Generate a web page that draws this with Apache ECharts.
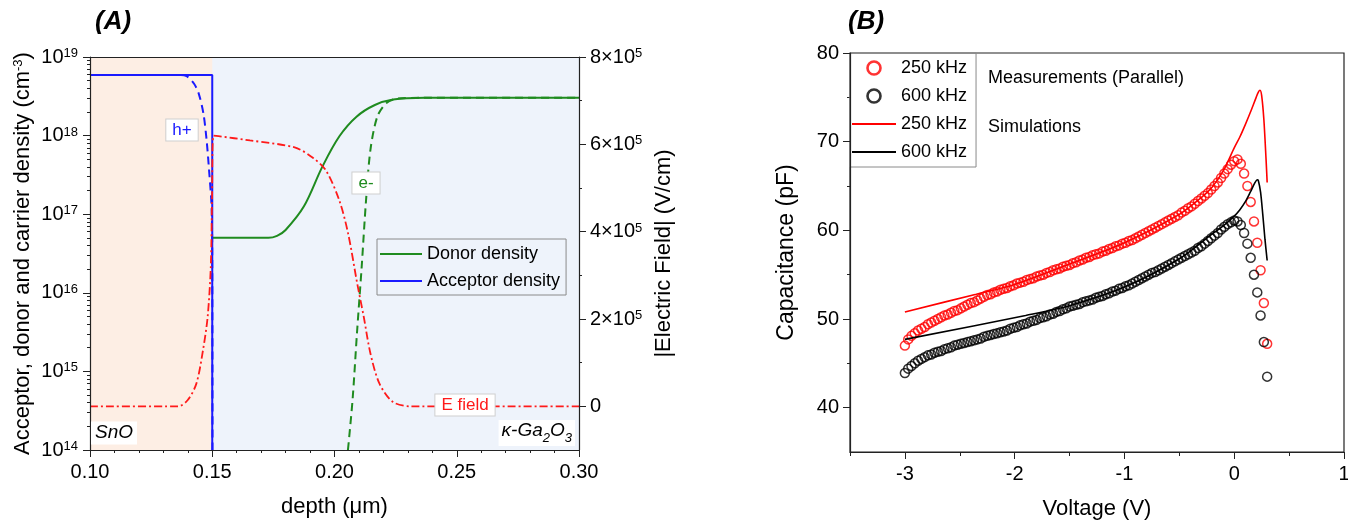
<!DOCTYPE html>
<html>
<head>
<meta charset="utf-8">
<script src="https://cdn.jsdelivr.net/npm/echarts@6/dist/echarts.min.js"></script>
<style>
  html, body { margin: 0; padding: 0; background: #fff; }
  #chart { width: 1348px; height: 520px; }
</style>
</head>
<body>
<div id="chart"></div>
<script>
// ---- panel A : depth profile ----
var acceptorDepth = [0.10, 0.15, 0.15];
var acceptor = [5.9e18, 5.9e18, 1e14];

var donorDepth = [0.15, 0.173, 0.1765, 0.180, 0.1875, 0.195, 0.202, 0.209, 0.2165, 0.224, 0.237, 0.30];
var donor = [5.0e16, 5.0e16, 5.3e16, 6.3e16, 1.26e17, 4.0e17, 9.8e17, 1.74e18, 2.45e18, 2.88e18, 3.02e18, 3.02e18];

var holeDepth = [0.10, 0.136, 0.1395, 0.1425, 0.1445, 0.1464, 0.1477, 0.1488, 0.1497, 0.1500, 0.1501];
var holes = [5.9e18, 5.9e18, 5.7e18, 4.6e18, 3.4e18, 1.9e18, 8.7e17, 3.3e17, 1.3e17, 3e16, 1e14];

var electronDepth = [0.2055, 0.2074, 0.2092, 0.2111, 0.2129, 0.2147, 0.2175, 0.2211, 0.2256, 0.235, 0.30];
var electrons = [1e14, 4.4e14, 3.1e15, 2.1e16, 1.5e17, 6.6e17, 1.74e18, 2.57e18, 2.95e18, 3.02e18, 3.02e18];

var fieldDepth = [0.10, 0.136, 0.1399, 0.1435, 0.1462, 0.1481, 0.1494, 0.1499, 0.1505, 0.1654, 0.1837, 0.191,
  0.1965, 0.202, 0.2056, 0.2093, 0.212, 0.2147, 0.2184, 0.2239, 0.2312, 0.30];
var field = [0, 0, 1.4e4, 5.2e4, 1.28e5, 2.04e5, 3.19e5, 4.71e5, 6.2e5, 6.09e5, 5.93e5, 5.70e5,
  5.40e5, 4.71e5, 3.95e5, 2.81e5, 2.04e5, 1.21e5, 5.2e4, 1e4, 0, 0];

var fieldTicks = [0, 2e5, 4e5, 6e5, 8e5];
var fieldMinorTicks = [1e5, 3e5, 5e5, 7e5];

// ---- panel B : C-V ----
var volt = [
  -3.00, -2.97, -2.94, -2.91, -2.88, -2.85, -2.82, -2.79, -2.76, -2.73,
  -2.70, -2.67, -2.64, -2.61, -2.58, -2.55, -2.52, -2.49, -2.46, -2.43,
  -2.40, -2.37, -2.34, -2.31, -2.28, -2.25, -2.22, -2.19, -2.16, -2.13,
  -2.10, -2.07, -2.04, -2.01, -1.98, -1.95, -1.92, -1.89, -1.86, -1.83,
  -1.80, -1.77, -1.74, -1.71, -1.68, -1.65, -1.62, -1.59, -1.56, -1.53,
  -1.50, -1.47, -1.44, -1.41, -1.38, -1.35, -1.32, -1.29, -1.26, -1.23,
  -1.20, -1.17, -1.14, -1.11, -1.08, -1.05, -1.02, -0.99, -0.96, -0.93,
  -0.90, -0.87, -0.84, -0.81, -0.78, -0.75, -0.72, -0.69, -0.66, -0.63,
  -0.60, -0.57, -0.54, -0.51, -0.48, -0.45, -0.42, -0.39, -0.36, -0.33,
  -0.30, -0.27, -0.24, -0.21, -0.18, -0.15, -0.12, -0.09, -0.06, -0.03,
  0.00, 0.03, 0.06, 0.09, 0.12, 0.15, 0.18, 0.21, 0.24, 0.27,
  0.30
];
var meas250 = [
  47.0, 47.7, 48.1, 48.4, 48.7, 48.9, 49.1, 49.4, 49.6, 49.8,
  50.0, 50.2, 50.4, 50.5, 50.7, 50.9, 51.0, 51.2, 51.4, 51.6,
  51.8, 51.9, 52.1, 52.3, 52.5, 52.7, 52.8, 53.0, 53.1, 53.3,
  53.4, 53.5, 53.7, 53.8, 54.0, 54.1, 54.2, 54.4, 54.5, 54.6,
  54.8, 54.9, 55.0, 55.2, 55.3, 55.5, 55.6, 55.7, 55.9, 56.0,
  56.1, 56.3, 56.4, 56.6, 56.7, 56.9, 57.0, 57.2, 57.3, 57.4,
  57.6, 57.7, 57.9, 58.0, 58.2, 58.3, 58.5, 58.6, 58.8, 58.9,
  59.1, 59.3, 59.5, 59.7, 59.9, 60.1, 60.3, 60.5, 60.7, 60.9,
  61.1, 61.3, 61.5, 61.7, 62.0, 62.2, 62.5, 62.7, 63.0, 63.3,
  63.6, 63.9, 64.2, 64.6, 65.0, 65.4, 65.9, 66.4, 66.9, 67.4,
  67.8, 68.0, 67.5, 66.4, 65.0, 63.2, 61.0, 58.6, 55.5, 51.8,
  47.2
];
var meas600 = [
  43.9, 44.4, 44.7, 45.0, 45.3, 45.5, 45.7, 45.9, 46.0, 46.2,
  46.3, 46.4, 46.6, 46.7, 46.8, 47.0, 47.1, 47.2, 47.3, 47.4,
  47.5, 47.6, 47.7, 47.8, 48.0, 48.1, 48.2, 48.3, 48.4, 48.5,
  48.6, 48.7, 48.9, 49.0, 49.1, 49.3, 49.4, 49.5, 49.7, 49.8,
  49.9, 50.1, 50.2, 50.3, 50.5, 50.6, 50.8, 50.9, 51.1, 51.2,
  51.4, 51.5, 51.6, 51.7, 51.9, 52.0, 52.1, 52.2, 52.4, 52.5,
  52.6, 52.8, 52.9, 53.1, 53.2, 53.4, 53.5, 53.7, 53.8, 54.0,
  54.2, 54.4, 54.6, 54.8, 55.0, 55.2, 55.3, 55.5, 55.7, 55.9,
  56.1, 56.3, 56.5, 56.7, 56.9, 57.1, 57.3, 57.5, 57.7, 58.0,
  58.2, 58.5, 58.8, 59.1, 59.4, 59.7, 60.1, 60.4, 60.7, 60.9,
  61.1, 61.0, 60.6, 59.7, 58.5, 56.9, 55.0, 53.0, 50.4, 47.4,
  43.5
];
var simVolt250 = [-3.0, -2.35, -2.0, -1.5, -1.0, -0.5, -0.3, -0.2, -0.1, 0.0, 0.05, 0.1, 0.15, 0.2, 0.22, 0.235, 0.25, 0.27, 0.29, 0.30];
var sim250 = [50.8, 52.8, 53.9, 56.2, 58.6, 61.8, 63.7, 64.9, 66.7, 69.3, 70.5, 71.9, 73.4, 75.0, 75.6, 75.8, 75.2, 72.5, 68.0, 65.4];
var simVolt600 = [-3.0, -1.9, -1.5, -1.0, -0.5, -0.2, -0.1, 0.0, 0.05, 0.1, 0.15, 0.19, 0.21, 0.22, 0.24, 0.26, 0.28, 0.30];
var sim600 = [47.7, 50.4, 51.5, 53.6, 56.8, 59.6, 60.5, 61.6, 62.3, 63.2, 64.4, 65.4, 65.7, 65.6, 64.3, 61.8, 59.0, 56.6];

var voltTicks = [-3, -2, -1, 0, 1];
var voltMinorTicks = [-3.5, -2.5, -1.5, -0.5, 0.5];
var capTicks = [40, 50, 60, 70, 80];
var capMinorTicks = [45, 55, 65, 75];

function zip(xs, ys) {
  return xs.map(function (x, i) { return [x, ys[i]]; });
}

// log minor tick positions (2..9 x 10^n), used on an overlay linear axis
var logMinor = [];
for (var n = 14; n < 19; n++) {
  for (var k = 2; k <= 9; k++) logMinor.push(n + Math.log10(k));
}

var FONT = "Liberation Sans";
var GREEN = "#1f8b1f";
var BLUE = "#1a1aff";
var RED = "#ff1a1a";
var supRich = { sup: { fontSize: 13, verticalAlign: "top", lineHeight: 12 } };
var LINE_ICON = "path://M0,0h40v2h-40z";

var myChart = echarts.init(document.getElementById("chart"));

var axisLineStyle = { onZero: false, lineStyle: { color: "#222", width: 1.2 } };
var noLine = { show: false, onZero: false };

var option = {
  animation: false,
  textStyle: { fontFamily: FONT, color: "#000" },
  grid: [
    { left: 90, right: 769, top: 57, bottom: 70, show: true, backgroundColor: "#eef3fb", borderWidth: 0, outerBoundsMode: "none" },
    { left: 850, right: 4, top: 53, bottom: 68, show: true, backgroundColor: "#fff", borderColor: "#222", borderWidth: 1.2, outerBoundsMode: "none" },
  ],
  xAxis: [
    {
      gridIndex: 0, type: "value", min: 0.1, max: 0.3, interval: 0.05, position: "bottom", z: 10,
      axisLine: axisLineStyle,
      axisTick: { length: 7, lineStyle: { color: "#222" } },
      minorTick: { show: true, splitNumber: 5, length: 3, lineStyle: { color: "#222" } },
      splitLine: { show: false },
      axisLabel: { fontSize: 20, color: "#000", margin: 12, formatter: function (v) { return v.toFixed(2); } },
      name: "depth (μm)", nameLocation: "middle", nameGap: 46,
      nameTextStyle: { fontSize: 22, color: "#000" },
    },
    {
      gridIndex: 0, type: "value", min: 0.1, max: 0.3, position: "top", z: 10,
      axisLine: axisLineStyle, axisTick: { show: false }, axisLabel: { show: false }, splitLine: { show: false },
    },
    {
      gridIndex: 1, type: "value", min: -3.5, max: 1, position: "bottom", z: 10,
      axisLine: axisLineStyle,
      axisTick: { length: 7, customValues: voltTicks, lineStyle: { color: "#222" } },
      axisLabel: { fontSize: 20, color: "#000", margin: 12, customValues: voltTicks },
      splitLine: { show: false },
      name: "Voltage (V)", nameLocation: "middle", nameGap: 46,
      nameTextStyle: { fontSize: 22, color: "#000" },
    },
    {
      gridIndex: 1, type: "value", min: -3.5, max: 1, position: "bottom",
      axisLine: noLine,
      axisTick: { length: 4, customValues: voltMinorTicks, lineStyle: { color: "#222" } },
      axisLabel: { show: false }, splitLine: { show: false },
    },
  ],
  yAxis: [
    {
      gridIndex: 0, type: "log", logBase: 10, min: 1e14, max: 1e19, position: "left", z: 10,
      axisLine: axisLineStyle,
      axisTick: { length: 7, lineStyle: { color: "#222" } },
      splitLine: { show: false },
      axisLabel: {
        fontSize: 20, color: "#000", margin: 12, rich: supRich,
        formatter: function (v) { return "10{sup|" + Math.round(Math.log10(v)) + "}"; },
      },
      name: "Acceptor, donor and carrier density (cm{sup|-3})",
      nameLocation: "middle", nameRotate: 90, nameGap: 56,
      nameTextStyle: { fontSize: 22, color: "#000", rich: supRich },
    },
    {
      gridIndex: 0, type: "value", min: -1e5, max: 8e5, position: "right", z: 10,
      axisLine: axisLineStyle,
      axisTick: { length: 7, customValues: fieldTicks, lineStyle: { color: "#222" } },
      splitLine: { show: false },
      axisLabel: {
        fontSize: 20, color: "#000", margin: 11, rich: supRich, customValues: fieldTicks,
        formatter: function (v) { return v === 0 ? "0" : (v / 1e5) + "×10{sup|5}"; },
      },
      name: "|Electric Field| (V/cm)",
      nameLocation: "middle", nameRotate: 90, nameGap: 74,
      nameTextStyle: { fontSize: 22, color: "#000" },
    },
    {
      gridIndex: 0, type: "value", min: 14, max: 19, position: "left",
      axisLine: noLine,
      axisTick: { length: 3, customValues: logMinor, lineStyle: { color: "#222" } },
      axisLabel: { show: false }, splitLine: { show: false },
    },
    {
      gridIndex: 0, type: "value", min: -1e5, max: 8e5, position: "right",
      axisLine: noLine,
      axisTick: { length: 3, customValues: fieldMinorTicks, lineStyle: { color: "#222" } },
      axisLabel: { show: false }, splitLine: { show: false },
    },
    {
      gridIndex: 1, type: "value", min: 35, max: 80, position: "left", z: 10,
      axisLine: axisLineStyle,
      axisTick: { length: 7, customValues: capTicks, lineStyle: { color: "#222" } },
      axisLabel: { fontSize: 20, color: "#000", margin: 11, customValues: capTicks },
      splitLine: { show: false },
      name: "Capacitance (pF)", nameLocation: "middle", nameRotate: 90, nameGap: 52,
      nameTextStyle: { fontSize: 23, color: "#000" },
    },
    {
      gridIndex: 1, type: "value", min: 35, max: 80, position: "left",
      axisLine: noLine,
      axisTick: { length: 3, customValues: capMinorTicks, lineStyle: { color: "#222" } },
      axisLabel: { show: false }, splitLine: { show: false },
    },
  ],
  legend: [
    {
      data: [
        { name: "Donor density", icon: LINE_ICON },
        { name: "Acceptor density", icon: LINE_ICON },
      ],
      left: 377, top: 239, orient: "vertical", selectedMode: false,
      itemWidth: 42, itemHeight: 14, itemGap: 9, padding: [6, 6, 5, 3],
      borderColor: "#8a8a8a", borderWidth: 1,
      textStyle: { fontSize: 18, color: "#000" },
    },
    {
      data: [
        { name: "250 kHz", itemStyle: { borderWidth: 2.6 } },
        { name: "600 kHz", itemStyle: { borderWidth: 2.6 } },
        { name: "250 kHz ", icon: LINE_ICON },
        { name: "600 kHz ", icon: LINE_ICON },
      ],
      left: 850, top: 53, orient: "vertical", selectedMode: false,
      itemWidth: 44, itemHeight: 13, itemGap: 10, padding: [6, 4, 6, 2],
      borderColor: "#8a8a8a", borderWidth: 1,
      textStyle: { fontSize: 18, color: "#000" },
    },
  ],
  series: [
    {
      name: "Acceptor density", type: "line", xAxisIndex: 0, yAxisIndex: 0,
      symbol: "none", data: zip(acceptorDepth, acceptor),
      lineStyle: { color: BLUE, width: 2 }, itemStyle: { color: BLUE },
      markArea: {
        silent: true,
        data: [[{ xAxis: 0.10, itemStyle: { color: "#fdeee4" } }, { xAxis: 0.15 }]],
      },
    },
    {
      name: "Donor density", type: "line", xAxisIndex: 0, yAxisIndex: 0,
      symbol: "none", smooth: 0.35, data: zip(donorDepth, donor),
      lineStyle: { color: GREEN, width: 2 }, itemStyle: { color: GREEN },
    },
    {
      name: "h+", type: "line", xAxisIndex: 0, yAxisIndex: 0,
      symbol: "none", smooth: 0.3, data: zip(holeDepth, holes),
      lineStyle: { color: BLUE, width: 2, type: [8, 5] },
    },
    {
      name: "e-", type: "line", xAxisIndex: 0, yAxisIndex: 0,
      symbol: "none", smooth: 0.3, data: zip(electronDepth, electrons),
      lineStyle: { color: GREEN, width: 2, type: [8, 5] },
    },
    {
      name: "E field", type: "line", xAxisIndex: 0, yAxisIndex: 1,
      symbol: "none", smooth: 0.3, data: zip(fieldDepth, field),
      lineStyle: { color: RED, width: 1.8, type: [8, 3, 2, 3] },
    },
    {
      name: "250 kHz", type: "scatter", xAxisIndex: 2, yAxisIndex: 4,
      symbol: "circle", symbolSize: 9, data: zip(volt, meas250),
      itemStyle: { color: "rgba(255,255,255,0)", borderColor: "#ff0000", borderWidth: 1.5 },
    },
    {
      name: "600 kHz", type: "scatter", xAxisIndex: 2, yAxisIndex: 4,
      symbol: "circle", symbolSize: 9, data: zip(volt, meas600),
      itemStyle: { color: "rgba(255,255,255,0)", borderColor: "#000", borderWidth: 1.5 },
    },
    {
      name: "250 kHz ", type: "line", xAxisIndex: 2, yAxisIndex: 4,
      symbol: "none", smooth: 0.3, data: zip(simVolt250, sim250),
      lineStyle: { color: "#ff0000", width: 1.6 }, itemStyle: { color: "#ff0000" },
    },
    {
      name: "600 kHz ", type: "line", xAxisIndex: 2, yAxisIndex: 4,
      symbol: "none", smooth: 0.3, data: zip(simVolt600, sim600),
      lineStyle: { color: "#000", width: 1.6 }, itemStyle: { color: "#000" },
    },
  ],
  graphic: {
    elements: [
      { type: "text", x: 95, y: 9, z: 100, style: { text: "(A)", font: "italic bold 26px " + FONT, fill: "#000" } },
      { type: "text", x: 848, y: 9, z: 100, style: { text: "(B)", font: "italic bold 26px " + FONT, fill: "#000" } },
      {
        type: "text", x: 182, y: 130, z: 100,
        style: {
          text: "h+", fill: BLUE, font: "17px " + FONT, align: "center", verticalAlign: "middle",
          backgroundColor: "#fff", borderColor: "#cfcfcf", borderWidth: 1, padding: [2, 6],
        },
      },
      {
        type: "text", x: 366, y: 183, z: 100,
        style: {
          text: "e-", fill: GREEN, font: "17px " + FONT, align: "center", verticalAlign: "middle",
          backgroundColor: "#fff", borderColor: "#cfcfcf", borderWidth: 1, padding: [2, 6],
        },
      },
      {
        type: "text", x: 465, y: 405, z: 100,
        style: {
          text: "E field", fill: RED, font: "17px " + FONT, align: "center", verticalAlign: "middle",
          backgroundColor: "#fff", borderColor: "#cfcfcf", borderWidth: 1, padding: [2, 6],
        },
      },
      {
        type: "text", x: 114, y: 433, z: 100,
        style: {
          text: "SnO", fill: "#000", font: "italic 19px " + FONT, align: "center", verticalAlign: "middle",
          backgroundColor: "#fff", padding: [2, 4],
        },
      },
      {
        type: "text", x: 575, y: 433, z: 100,
        style: {
          text: "{i|κ-Ga}{s|2}{i|O}{s|3}", align: "right", verticalAlign: "middle",
          backgroundColor: "#fff", padding: [1, 3],
          rich: {
            i: { fontFamily: FONT, fontStyle: "italic", fontSize: 19, lineHeight: 24, fill: "#000", verticalAlign: "top" },
            s: { fontFamily: FONT, fontStyle: "italic", fontSize: 13, lineHeight: 14, fill: "#000", verticalAlign: "bottom" },
          },
        },
      },
      { type: "text", x: 988, y: 78, z: 100, style: { text: "Measurements (Parallel)", font: "18px " + FONT, fill: "#000", verticalAlign: "middle" } },
      { type: "text", x: 988, y: 127, z: 100, style: { text: "Simulations", font: "18px " + FONT, fill: "#000", verticalAlign: "middle" } },
    ],
  },
};

myChart.setOption(option);
window.addEventListener("resize", function () {
  myChart.resize();
});
</script>
</body>
</html>
